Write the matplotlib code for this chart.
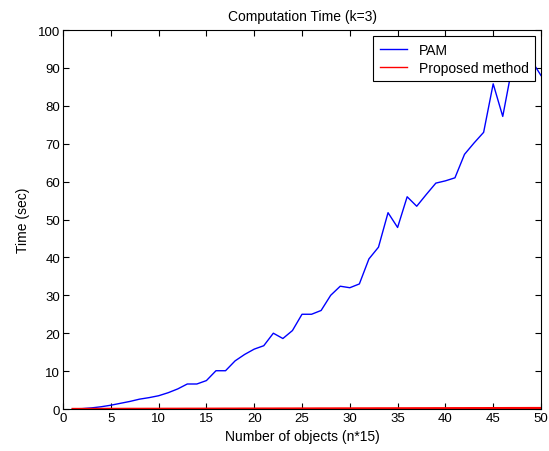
import numpy as np
import matplotlib.pyplot as plt

plt.rcParams['font.family'] = ['Liberation Sans', 'DejaVu Sans']

# number of objects (n*15)
n = list(range(1, 51))

# PAM computation time (sec)
pam = [0.05, 0.1, 0.3, 0.6, 1.0, 1.5, 2.0, 2.6, 3.0, 3.5,
       4.3, 5.3, 6.6, 6.6, 7.5, 10.1, 10.1, 12.7, 14.4, 15.8,
       16.7, 20.0, 18.6, 20.7, 25.0, 25.0, 26.0, 30.0, 32.4, 32.0,
       33.0, 39.6, 42.7, 51.8, 47.9, 56.0, 53.5, 56.6, 59.6, 60.2,
       61.0, 67.2, 70.2, 73.0, 85.8, 77.2, 90.5, 93.0, 92.0, 88.0]

# proposed method stays close to zero
proposed = [0.02, 0.02, 0.03, 0.03, 0.04, 0.04, 0.05, 0.05, 0.06, 0.06,
            0.07, 0.07, 0.08, 0.08, 0.09, 0.09, 0.1, 0.1, 0.11, 0.11,
            0.12, 0.12, 0.13, 0.13, 0.14, 0.14, 0.15, 0.15, 0.16, 0.16,
            0.17, 0.17, 0.18, 0.18, 0.19, 0.19, 0.2, 0.2, 0.21, 0.21,
            0.22, 0.22, 0.23, 0.23, 0.24, 0.24, 0.25, 0.25, 0.26, 0.26]

fig = plt.figure(figsize=(5.49, 4.52), dpi=100)
ax = fig.add_axes([0.1148, 0.0929, 0.8706, 0.8385])

ax.plot(n, pam, color='#0000ff', lw=1.0, label='PAM')
ax.plot(n, proposed, color='#ff0000', lw=1.6, label='Proposed method')

ax.set_xlim(0, 50)
ax.set_ylim(0, 100)
ax.set_xticks(np.arange(0, 51, 5))
ax.set_yticks(np.arange(0, 101, 10))
ax.tick_params(direction='in', top=True, right=True, length=4, width=0.8,
               labelsize=9.5, pad=2)
for s in ax.spines.values():
    s.set_linewidth(0.8)

ax.set_title('Computation Time (k=3)', fontsize=10, pad=7)
ax.set_xlabel('Number of objects (n*15)', fontsize=10, labelpad=4)
ax.set_ylabel('Time (sec)', fontsize=10, labelpad=6)

# MATLAB-like legend box, square corners
leg = ax.legend(loc='upper right', fontsize=10, fancybox=False,
                edgecolor='black', framealpha=1, handlelength=2.0,
                borderaxespad=0.45, borderpad=0.45, labelspacing=0.3,
                handletextpad=0.8)
leg.get_frame().set_linewidth(0.8)
for line in leg.get_lines():
    line.set_linewidth(1.0)

fig.savefig('out.png', dpi=100)
